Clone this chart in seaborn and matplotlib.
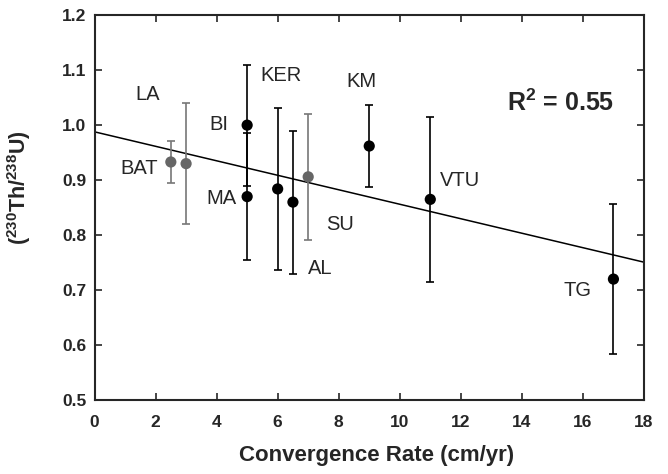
import numpy as np
import pandas as pd
import seaborn as sns
import matplotlib.pyplot as plt

# ---- data ----
sites = ['BAT', 'LA', 'BI', 'MA', 'KER', 'AL', 'SU', 'KM', 'VTU', 'TG']
rate = [2.5, 3.0, 5.0, 5.0, 6.0, 6.5, 7.0, 9.0, 11.0, 17.0]
ratio = [0.933, 0.930, 1.000, 0.870, 0.884, 0.860, 0.906, 0.962, 0.865, 0.720]
err = [0.039, 0.110, 0.110, 0.115, 0.147, 0.130, 0.114, 0.074, 0.150, 0.136]
group = ['grey', 'grey', 'black', 'black', 'black', 'black', 'grey', 'black', 'black', 'black']

# label positions (data coords) and alignment
label_x = [1.46, 1.75, 4.08, 4.17, 6.11, 7.39, 8.05, 8.76, 11.33, 15.81]
label_y = [0.921, 1.055, 1.002, 0.867, 1.091, 0.740, 0.820, 1.079, 0.900, 0.699]
label_ha = ['center'] * 8 + ['left', 'center']

df = pd.DataFrame({'site': sites, 'rate': rate, 'ratio': ratio, 'err': err, 'group': group})

sns.set_theme(style='ticks')
plt.rcParams['font.family'] = ['Liberation Sans', 'DejaVu Sans']
plt.rcParams['mathtext.fontset'] = 'custom'
plt.rcParams['mathtext.rm'] = 'Liberation Sans'
plt.rcParams['mathtext.bf'] = 'Liberation Sans:bold'

fig = plt.figure(figsize=(6.68, 4.74), dpi=100)
ax = fig.add_axes([0.1415, 0.156, 0.8225, 0.812])
ax.set_xlim(0, 18)
ax.set_ylim(0.5, 1.2)

# regression line across the whole axis
sns.regplot(data=df, x='rate', y='ratio', scatter=False, ci=None, truncate=False,
            line_kws={'color': 'black', 'lw': 1.1}, ax=ax)

colors = {'black': 'black', 'grey': '#666666'}
bar_colors = {'black': 'black', 'grey': '#777777'}
for g, sub in df.groupby('group'):
    ax.errorbar(sub['rate'], sub['ratio'], yerr=sub['err'], fmt='none',
                ecolor=bar_colors[g], elinewidth=1.2, capsize=3, capthick=1.2, zorder=2)

sns.scatterplot(data=df, x='rate', y='ratio', hue='group', palette=colors,
                s=65, edgecolor='none', legend=False, zorder=3, ax=ax)

for s, lx, ly, ha in zip(sites, label_x, label_y, label_ha):
    ax.text(lx, ly, s, ha=ha, va='center', fontsize=14.5)

ax.text(15.26, 1.04, r'R$^{\mathbf{2}}$ = 0.55', ha='center', va='center',
        fontsize=18, fontweight='bold')

ax.set_xticks(np.arange(0, 19, 2))
ax.set_yticks(np.arange(0.5, 1.21, 0.1))
ax.set_yticklabels([f'{v:.1f}' for v in np.arange(0.5, 1.21, 0.1)])
ax.tick_params(direction='in', length=5, width=1.2, top=True, right=True,
               labelsize=12.5)
ax.tick_params(axis='x', pad=11)
ax.tick_params(axis='y', pad=6)
for lab in ax.get_xticklabels() + ax.get_yticklabels():
    lab.set_fontweight('bold')
for sp in ax.spines.values():
    sp.set_linewidth(1.5)
    sp.set_visible(True)

ax.set_xlabel('Convergence Rate (cm/yr)', fontsize=16, fontweight='bold')
ax.set_ylabel(r'($^{\mathbf{230}}$Th/$^{\mathbf{238}}$U)', fontsize=15.5, fontweight='bold')
ax.xaxis.set_label_coords(0.514, -0.117)
ax.yaxis.set_label_coords(-0.112, 0.553)

fig.savefig('out.png', dpi=100)
